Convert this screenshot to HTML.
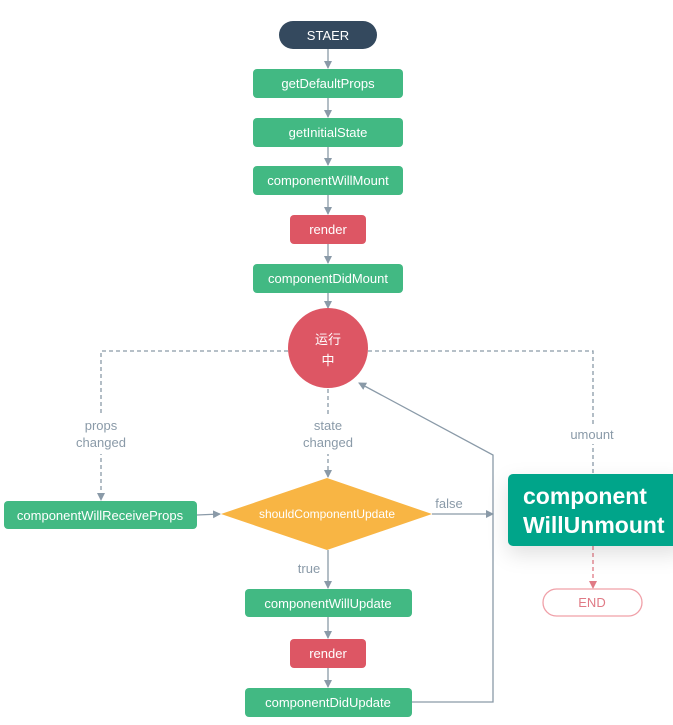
<!DOCTYPE html>
<html><head><meta charset="utf-8"><style>
html,body{margin:0;padding:0;background:#fff;}
svg{display:block;}
text{font-family:"Liberation Sans","Noto Sans CJK SC",sans-serif;}
</style></head><body>
<svg width="673" height="725" viewBox="0 0 673 725" xmlns="http://www.w3.org/2000/svg">
<defs>
<marker id="a" markerWidth="8" markerHeight="8" refX="7" refY="4" orient="auto" markerUnits="userSpaceOnUse"><path d="M0,0 L8,4 L0,8 z" fill="#8a9aa8"/></marker>
<marker id="ar" markerWidth="8" markerHeight="8" refX="7" refY="4" orient="auto" markerUnits="userSpaceOnUse"><path d="M0,0 L8,4 L0,8 z" fill="#e07a85"/></marker>
<filter id="sh" x="-20%" y="-30%" width="150%" height="200%"><feDropShadow dx="0" dy="8" stdDeviation="10" flood-color="#000" flood-opacity="0.12"/></filter>
</defs>
<g stroke="#8a9aa8" stroke-width="1.3" fill="none">
<line x1="328" y1="49" x2="328" y2="68" marker-end="url(#a)"/>
<line x1="328" y1="98" x2="328" y2="117" marker-end="url(#a)"/>
<line x1="328" y1="147" x2="328" y2="165" marker-end="url(#a)"/>
<line x1="328" y1="195" x2="328" y2="214" marker-end="url(#a)"/>
<line x1="328" y1="244" x2="328" y2="263" marker-end="url(#a)"/>
<line x1="328" y1="293" x2="328" y2="308" marker-end="url(#a)"/>
<g stroke-dasharray="4,3">
<polyline points="288,351 101,351 101,500" marker-end="url(#a)"/>
<polyline points="368,351 593,351 593,473"/>
<line x1="328" y1="389" x2="328" y2="477" marker-end="url(#a)"/>
</g>
<line x1="593" y1="546" x2="593" y2="588" stroke="#e07a85" stroke-dasharray="4,3" marker-end="url(#ar)"/>
<line x1="197" y1="515" x2="220" y2="514" marker-end="url(#a)"/>
<line x1="432" y1="514" x2="493" y2="514" marker-end="url(#a)"/>
<line x1="328" y1="550" x2="328" y2="588" marker-end="url(#a)"/>
<line x1="328" y1="617" x2="328" y2="638" marker-end="url(#a)"/>
<line x1="328" y1="668" x2="328" y2="687" marker-end="url(#a)"/>
<polyline points="412,702 493,702 493,455 359,383" marker-end="url(#a)"/>
</g>
<g fill="#fff" stroke="none">
<rect x="101" y="410" width="0" height="0"/>
</g>
<!-- label backgrounds -->
<rect x="70" y="416" width="62" height="38" fill="#fff"/>
<rect x="298" y="416" width="60" height="38" fill="#fff"/>
<rect x="564" y="424" width="58" height="20" fill="#fff"/>
<g font-size="13" fill="#8a9aa8" text-anchor="middle">
<text x="101" y="430">props</text><text x="101" y="447">changed</text>
<text x="328" y="430">state</text><text x="328" y="447">changed</text>
<text x="592" y="439">umount</text>
<text x="449" y="508">false</text>
<text x="309" y="573">true</text>
</g>
<rect x="279" y="21" width="98" height="28" rx="14" fill="#34495e"/>
<text x="328" y="40" font-size="13" fill="#fff" text-anchor="middle">STAER</text>
<g fill="#42b983">
<rect x="253" y="69" width="150" height="29" rx="4"/>
<rect x="253" y="118" width="150" height="29" rx="4"/>
<rect x="253" y="166" width="150" height="29" rx="4"/>
<rect x="253" y="264" width="150" height="29" rx="4"/>
<rect x="4" y="501" width="193" height="28" rx="4"/>
<rect x="245" y="589" width="167" height="28" rx="4"/>
<rect x="245" y="688" width="167" height="29" rx="4"/>
</g>
<g fill="#dd5664">
<rect x="290" y="215" width="76" height="29" rx="4"/>
<rect x="290" y="639" width="76" height="29" rx="4"/>
<ellipse cx="328" cy="348" rx="40" ry="40"/>
</g>
<polygon points="221,514 327,478 432,514 327,550" fill="#f8b544"/>
<rect x="543" y="589" width="99" height="27" rx="13.5" fill="#fff" stroke="#f0a0a8" stroke-width="1.3"/>
<g font-size="13" fill="#fff" text-anchor="middle">
<text x="328" y="88">getDefaultProps</text>
<text x="328" y="137">getInitialState</text>
<text x="328" y="185">componentWillMount</text>
<text x="328" y="234">render</text>
<text x="328" y="283">componentDidMount</text>
<text x="328" y="344">运行</text>
<text x="328" y="365">中</text>
<text x="100" y="520">componentWillReceiveProps</text>
<text x="327" y="518" font-size="12">shouldComponentUpdate</text>
<text x="328" y="608">componentWillUpdate</text>
<text x="328" y="658">render</text>
<text x="328" y="707">componentDidUpdate</text>
<text x="592" y="607" fill="#e07a85">END</text>
</g>
<rect x="508" y="474" width="175" height="72" rx="5" fill="#00a58a" filter="url(#sh)"/>
<g font-size="23" font-weight="bold" fill="#fff">
<text x="523" y="504">component</text>
<text x="523" y="533">WillUnmount</text>
</g>
</svg>
</body></html>
